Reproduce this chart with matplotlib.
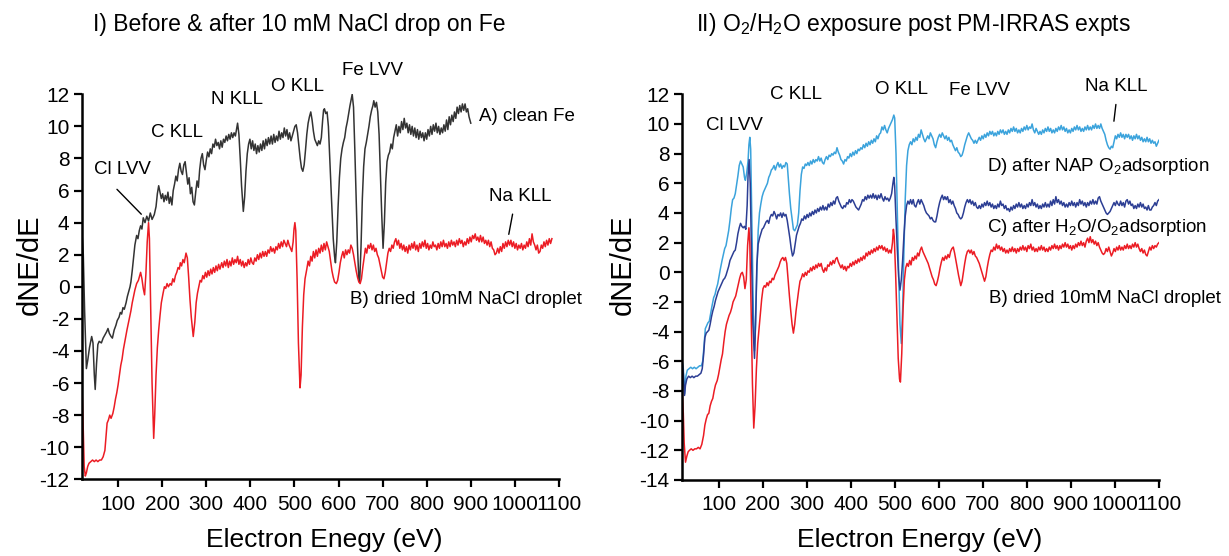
import numpy as np
import matplotlib
matplotlib.use("Agg")
import matplotlib.pyplot as plt

plt.rcParams['font.family'] = ['Liberation Sans', 'DejaVu Sans']
plt.rcParams['mathtext.fontset'] = 'custom'
plt.rcParams['mathtext.rm'] = 'Liberation Sans'
plt.rcParams['mathtext.default'] = 'regular'
plt.rcParams['axes.unicode_minus'] = False

# ---- data: (energy eV, dNE/dE) ----
# panel I, A) clean Fe
clean_fe = [
    (18.4, 3.2), (21, 2.0), (24, -1.5), (28, -5.1), (31, -4.6), (35, -3.8), (40, -3.1), (43, -3.5),
    (46, -5.5), (48, -6.4), (51, -4.8), (54, -3.6), (57, -3.4), (62, -3.5), (66, -3.2), (70, -3.0),
    (74, -2.8), (77, -2.6), (80, -2.9), (84, -3.1), (87, -3.2), (91, -2.7), (95, -2.4), (98, -2.1),
    (102, -1.9), (105, -1.6), (108, -1.7), (111, -1.3), (114, -1.4), (118, -1.0), (121, -0.6), (124, -0.3),
    (127, 0.0), (129, 0.3), (132, 1.0), (135, 1.8), (138, 2.6), (142, 3.2), (145, 3.0), (148, 3.5),
    (151, 3.8), (154, 3.6), (157, 4.3), (161, 4.0), (165, 4.4), (169, 4.1), (173, 4.6), (177, 4.2),
    (182, 4.5), (186, 5.0), (189, 5.8), (192, 6.3), (195, 5.9), (198, 5.5), (201, 5.8), (204, 5.3),
    (207, 5.7), (210, 5.4), (213, 5.9), (216, 5.2), (219, 5.6), (222, 5.1), (225, 6.0), (228, 6.4),
    (231, 6.9), (234, 6.6), (237, 7.3), (240, 7.7), (243, 7.2), (246, 7.0), (249, 7.6), (252, 7.8),
    (255, 7.1), (258, 6.4), (261, 6.8), (264, 5.8), (267, 6.2), (270, 5.3), (273, 5.1), (276, 5.9),
    (279, 6.6), (282, 6.2), (285, 7.3), (288, 8.0), (291, 8.3), (294, 7.6), (297, 7.3), (300, 7.9),
    (303, 8.4), (306, 8.1), (309, 8.6), (312, 8.3), (315, 8.9), (318, 8.7), (321, 9.2), (324, 8.8),
    (327, 9.0), (330, 8.6), (333, 9.1), (336, 8.7), (339, 9.2), (342, 9.0), (345, 9.4), (348, 9.1),
    (351, 9.5), (354, 9.2), (357, 9.6), (360, 9.3), (363, 9.6), (366, 9.4), (369, 9.9), (371, 10.2),
    (374, 9.5), (377, 8.0), (380, 6.3), (384, 4.7), (387, 5.6), (390, 7.2), (393, 8.3), (396, 8.9),
    (399, 9.2), (402, 8.6), (405, 9.1), (408, 8.5), (411, 8.9), (414, 8.3), (417, 8.8), (420, 8.4),
    (423, 8.9), (426, 8.5), (429, 9.1), (432, 8.6), (435, 9.2), (438, 8.8), (441, 9.3), (444, 8.9),
    (447, 9.4), (450, 8.9), (453, 9.5), (456, 9.0), (459, 9.4), (462, 9.1), (465, 9.7), (468, 9.2),
    (471, 9.6), (474, 9.3), (477, 9.9), (480, 9.4), (483, 9.8), (486, 9.2), (489, 9.6), (492, 9.1),
    (495, 9.4), (498, 9.7), (501, 10.0), (504, 10.1), (507, 9.6), (510, 8.8), (513, 8.0), (516, 7.4),
    (519, 7.2), (522, 7.6), (525, 8.5), (528, 9.5), (531, 10.2), (534, 10.6), (537, 10.9), (540, 10.4),
    (543, 9.7), (546, 9.2), (549, 9.0), (552, 8.8), (555, 9.1), (558, 8.9), (561, 9.3), (564, 10.4),
    (566, 11.0), (568, 11.1), (571, 10.8), (574, 10.9), (577, 10.0), (580, 8.0), (584, 5.5), (588, 3.0),
    (591, 1.9), (593, 1.5), (596, 2.8), (599, 5.0), (602, 6.8), (605, 8.0), (608, 8.6), (611, 9.0),
    (614, 9.3), (617, 9.9), (620, 10.3), (623, 10.8), (626, 11.3), (629, 11.7), (631, 12.0), (634, 11.2),
    (637, 8.5), (640, 5.5), (643, 2.5), (646, 0.5), (648, 0.3), (651, 2.5), (654, 5.5), (657, 7.5),
    (660, 8.6), (663, 9.0), (666, 9.5), (669, 10.0), (672, 10.6), (675, 11.0), (678, 11.3), (680, 11.6),
    (683, 11.2), (686, 11.5), (689, 10.9), (692, 9.5), (695, 7.0), (698, 4.5), (701, 2.4), (704, 4.0),
    (707, 6.5), (710, 7.8), (713, 8.2), (716, 8.4), (719, 8.9), (722, 8.6), (725, 9.3), (728, 9.7),
    (731, 10.1), (734, 9.4), (737, 10.0), (740, 9.6), (743, 10.3), (746, 9.8), (749, 10.5), (752, 9.9),
    (755, 10.2), (758, 9.6), (761, 10.1), (764, 9.5), (767, 10.0), (770, 9.4), (773, 9.9), (776, 9.3),
    (779, 9.8), (782, 9.2), (785, 9.7), (788, 9.3), (791, 9.6), (794, 9.1), (797, 9.6), (800, 9.2),
    (803, 9.8), (806, 9.4), (809, 10.0), (812, 9.5), (815, 10.1), (818, 9.7), (821, 10.2), (824, 9.6),
    (827, 10.0), (830, 9.5), (833, 9.9), (836, 9.6), (839, 10.1), (842, 9.7), (845, 10.4), (848, 9.8),
    (851, 10.6), (854, 10.1), (857, 10.7), (860, 10.3), (863, 10.9), (866, 10.5), (869, 11.2), (872, 10.8),
    (875, 11.3), (878, 10.9), (881, 11.4), (884, 11.0), (887, 11.4), (890, 10.9), (893, 11.1), (896, 10.6),
    (900, 10.2),
]

# panel I, B) dried 10mM NaCl droplet
nacl_left = [
    (18.4, -6.5), (21, -9.0), (23, -11.2), (25.6, -11.8), (28, -11.6), (31, -11.2), (34, -11.0), (38, -10.9),
    (42, -10.8), (46, -10.9), (50, -10.8), (54, -10.9), (58, -10.8), (62, -10.8), (66, -10.6), (70, -10.2),
    (72, -9.5), (75, -8.5), (78, -8.3), (81, -8.0), (84, -8.2), (88, -7.9), (91, -7.5), (94, -7.0),
    (97, -6.6), (100, -6.1), (103, -5.5), (106, -4.9), (109, -4.5), (112, -3.9), (116, -3.3), (120, -2.7),
    (123, -2.3), (126, -1.9), (129, -1.5), (132, -1.0), (135, -0.6), (138, -0.2), (142, 0.2), (146, 0.4),
    (149, 0.7), (151, 0.9), (154, 0.5), (157, -0.1), (160, -0.5), (163, 0.8), (166, 2.8), (169, 4.0),
    (171, 3.0), (174, -1.5), (177, -6.0), (180.7, -9.45), (183, -8.0), (186, -5.5), (189, -3.8), (192, -2.7),
    (195, -1.8), (198, -1.0), (202, -0.4), (205, 0.0), (208, -0.1), (211, 0.2), (214, 0.0), (218, 0.2),
    (221, 0.1), (224, 0.5), (227, 0.3), (230, 0.7), (233, 0.9), (236, 1.2), (239, 1.1), (241, 1.5),
    (244, 1.3), (247, 1.7), (250, 1.5), (254, 2.1), (257, 1.8), (260, 0.6), (263, -0.8), (266, -1.9),
    (270.4, -3.1), (274, -2.2), (277, -1.0), (280, -0.4), (283, 0.0), (286, 0.4), (289, 0.3), (292, 0.7),
    (295, 0.5), (298, 0.9), (301, 0.6), (304, 1.0), (307, 0.7), (310, 1.1), (313, 0.8), (316, 1.2),
    (319, 0.9), (322, 1.3), (325, 1.0), (328, 1.4), (331, 1.1), (335, 1.5), (338, 1.2), (341, 1.6),
    (344, 1.3), (347, 1.7), (350, 1.2), (353, 1.6), (356, 1.3), (359, 1.8), (362, 1.4), (365, 1.7),
    (368, 1.5), (371, 1.9), (374, 1.4), (377, 1.7), (380, 1.3), (383, 1.6), (386, 1.2), (389, 1.5),
    (392, 1.3), (395, 1.7), (398, 1.4), (401, 1.8), (404, 1.5), (407, 1.4), (410, 1.8), (413, 1.6),
    (416, 2.0), (419, 1.7), (422, 2.1), (425, 1.8), (428, 2.2), (431, 1.9), (434, 2.2), (437, 1.9),
    (440, 2.3), (443, 2.1), (446, 2.5), (449, 2.2), (452, 2.4), (455, 2.1), (458, 2.5), (461, 2.3),
    (464, 2.7), (467, 2.4), (470, 2.8), (473, 2.5), (476, 2.9), (479, 2.7), (482, 2.5), (485, 2.9),
    (488, 2.6), (491, 2.4), (494, 2.2), (497, 2.8), (499, 3.6), (501, 4.0), (503, 3.5), (506, 0.5),
    (509, -3.5), (512.6, -6.3), (515, -5.5), (518, -2.5), (521, -0.5), (524, 0.5), (528, 1.1), (531, 1.6),
    (534, 1.3), (537, 1.9), (540, 1.6), (543, 2.2), (546, 1.8), (549, 2.3), (552, 1.9), (555, 2.4),
    (558, 2.1), (561, 2.6), (564, 2.2), (567, 2.7), (570, 2.3), (573, 2.8), (576, 2.5), (579, 2.2),
    (582, 1.6), (585, 1.0), (588, 0.6), (591, 0.3), (595, 0.2), (598, 0.4), (601, 0.9), (604, 1.5),
    (607, 1.9), (610, 2.2), (613, 1.8), (616, 2.3), (619, 2.0), (622, 2.3), (625, 2.1), (628, 2.6),
    (631, 2.4), (634, 2.0), (637, 1.5), (640, 1.0), (643, 0.6), (646, 0.3), (649, 0.2), (652, 0.5),
    (655, 1.2), (658, 1.8), (661, 2.4), (664, 2.1), (667, 2.6), (670, 2.4), (673, 2.7), (676, 2.3),
    (679, 2.6), (682, 2.2), (685, 2.4), (688, 2.0), (691, 1.8), (694, 1.4), (697, 1.0), (700, 0.6),
    (703, 0.5), (706, 0.9), (709, 1.5), (712, 2.1), (715, 2.4), (718, 2.2), (721, 2.6), (724, 2.4),
    (727, 2.8), (730, 3.0), (733, 2.6), (736, 2.9), (739, 2.4), (742, 2.7), (745, 2.3), (748, 2.6),
    (751, 2.2), (754, 2.5), (757, 2.1), (760, 2.6), (763, 2.3), (766, 2.7), (769, 2.4), (772, 2.8),
    (775, 2.3), (778, 2.6), (781, 2.2), (784, 2.7), (787, 2.4), (790, 2.8), (793, 2.5), (796, 2.9),
    (799, 2.4), (802, 2.7), (805, 2.3), (808, 2.6), (811, 2.4), (814, 2.8), (817, 2.5), (820, 2.6),
    (823, 2.3), (826, 2.7), (829, 2.4), (832, 2.8), (835, 2.5), (838, 2.9), (841, 2.5), (844, 2.7),
    (847, 2.4), (850, 2.8), (853, 2.5), (856, 2.9), (859, 2.6), (862, 2.8), (865, 2.5), (868, 2.9),
    (871, 2.6), (874, 3.0), (877, 2.7), (880, 2.9), (883, 2.5), (886, 2.8), (889, 2.6), (892, 3.0),
    (895, 2.7), (898, 3.1), (901, 2.8), (904, 3.2), (907, 3.0), (910, 3.3), (913, 2.9), (916, 3.1),
    (919, 2.8), (922, 3.2), (925, 2.8), (928, 3.1), (931, 2.7), (934, 2.9), (937, 2.6), (940, 2.9),
    (943, 2.5), (946, 2.8), (949, 2.4), (952, 2.3), (955, 2.0), (958, 2.1), (961, 2.4), (964, 2.1),
    (967, 2.5), (970, 2.2), (973, 2.7), (976, 2.4), (979, 2.8), (982, 2.5), (985, 2.9), (988, 2.6),
    (991, 2.9), (994, 2.5), (997, 2.8), (1000, 2.4), (1003, 2.7), (1006, 2.3), (1009, 2.6), (1012, 2.4),
    (1015, 2.7), (1018, 2.3), (1021, 2.6), (1024, 2.4), (1027, 2.8), (1030, 2.5), (1033, 3.0), (1036, 2.6),
    (1039, 3.3), (1042, 2.8), (1045, 2.6), (1048, 2.3), (1051, 2.6), (1054, 2.1), (1057, 2.2), (1060, 2.6),
    (1063, 2.4), (1066, 2.8), (1069, 2.5), (1072, 2.9), (1075, 2.6), (1078, 3.0), (1081, 2.7), (1084, 3.0),
]

# panel II, D) after NAP O2 adsorption
nap_o2 = [
    (17, -5.9), (20, -6.5), (23, -8.2), (26, -7.0), (29, -6.6), (33, -6.5), (37, -6.4), (41, -6.5),
    (45, -6.4), (49, -6.5), (53, -6.4), (57, -6.3), (61, -6.3), (64, -6.0), (67, -5.0), (70, -3.8),
    (73, -3.6), (76, -3.4), (79, -3.3), (82, -2.8), (85, -2.3), (89, -1.7), (92, -1.5), (95, -1.1),
    (98, -0.8), (101, -0.3), (104, 0.2), (108, 0.8), (111, 1.2), (114, 1.6), (117, 1.8), (120, 2.3),
    (123, 2.8), (126, 3.5), (129, 4.3), (132, 4.9), (135, 5.0), (138, 5.3), (141, 5.9), (144, 6.5),
    (147, 7.2), (150, 7.5), (153, 7.3), (156, 7.1), (159, 6.4), (161, 6.2), (164, 6.7), (167, 7.5),
    (169, 8.6), (171, 9.1), (173, 8.3), (176, 3.0), (179, -2.5), (181.7, -5.3), (184, -3.5), (187, 0.0),
    (190, 2.8), (193, 4.0), (196, 4.6), (199, 5.1), (202, 5.4), (205, 5.6), (208, 5.8), (211, 6.0),
    (214, 6.4), (217, 6.6), (220, 6.9), (223, 7.0), (226, 7.2), (229, 6.9), (232, 7.2), (235, 7.4),
    (238, 7.1), (241, 7.3), (244, 7.0), (247, 7.2), (250, 7.1), (253, 7.4), (256, 7.3), (258, 6.5),
    (261, 5.3), (264, 4.3), (267, 3.6), (270, 2.9), (273, 2.8), (276, 3.0), (279, 3.2), (282, 4.0),
    (285, 5.5), (288, 6.6), (291, 7.1), (294, 7.0), (297, 7.3), (300, 7.2), (303, 7.4), (306, 7.2),
    (309, 7.5), (312, 7.3), (315, 7.6), (318, 7.4), (321, 7.6), (324, 7.5), (327, 7.8), (330, 7.5),
    (333, 7.7), (336, 7.4), (339, 7.3), (342, 7.6), (345, 7.8), (348, 7.6), (351, 7.9), (354, 7.8),
    (357, 8.0), (360, 7.9), (363, 8.1), (366, 8.0), (369, 8.4), (372, 8.1), (375, 7.9), (378, 7.6),
    (381, 7.5), (384, 7.3), (387, 7.6), (390, 7.5), (393, 7.8), (396, 7.7), (399, 8.0), (402, 7.8),
    (405, 8.1), (408, 7.9), (411, 8.2), (414, 8.0), (417, 8.3), (420, 8.2), (423, 8.4), (426, 8.3),
    (429, 8.6), (432, 8.4), (435, 8.7), (438, 8.5), (441, 8.8), (444, 8.6), (447, 8.9), (450, 8.7),
    (453, 9.0), (456, 8.8), (459, 9.2), (462, 9.0), (465, 9.3), (468, 9.4), (471, 9.8), (474, 9.6),
    (477, 9.9), (480, 9.6), (483, 9.4), (486, 9.7), (489, 9.9), (492, 10.1), (495, 10.3), (498, 10.6),
    (500, 10.4), (503, 8.0), (506, 4.0), (509, 0.0), (512, -3.5), (515, -4.8), (518, -2.5), (521, 1.5),
    (524, 5.0), (527, 7.2), (530, 8.2), (533, 8.6), (536, 8.8), (539, 8.6), (542, 9.0), (545, 8.8),
    (548, 9.1), (551, 8.9), (554, 9.3), (557, 9.1), (560, 9.6), (563, 9.3), (566, 9.0), (569, 8.8),
    (572, 9.0), (575, 9.2), (578, 9.0), (581, 9.4), (584, 9.2), (587, 9.0), (590, 8.6), (593, 8.4),
    (596, 8.8), (599, 9.1), (602, 9.3), (605, 9.1), (608, 9.4), (611, 9.2), (614, 9.0), (617, 9.2),
    (620, 8.9), (623, 9.1), (626, 8.8), (629, 8.9), (632, 8.6), (635, 8.4), (638, 8.2), (641, 8.4),
    (644, 8.1), (647, 8.0), (650, 7.8), (653, 7.9), (656, 8.2), (659, 8.6), (662, 8.9), (665, 9.2),
    (668, 9.4), (671, 9.2), (674, 9.0), (677, 8.9), (680, 8.7), (683, 8.9), (686, 8.7), (689, 8.9),
    (692, 9.1), (695, 8.9), (698, 9.2), (701, 9.0), (704, 9.3), (707, 9.1), (710, 9.4), (713, 9.2),
    (716, 9.5), (719, 9.3), (722, 9.5), (725, 9.2), (728, 9.4), (731, 9.2), (734, 9.5), (737, 9.3),
    (740, 9.6), (743, 9.4), (746, 9.6), (749, 9.3), (752, 9.5), (755, 9.3), (758, 9.6), (761, 9.4),
    (764, 9.7), (767, 9.5), (770, 9.8), (773, 9.5), (776, 9.7), (779, 9.4), (782, 9.6), (785, 9.4),
    (788, 9.7), (791, 9.5), (794, 9.8), (797, 9.6), (800, 9.9), (803, 9.6), (806, 9.8), (809, 9.7),
    (812, 10.0), (815, 9.6), (818, 9.4), (821, 9.7), (824, 9.5), (827, 9.3), (830, 9.5), (833, 9.3),
    (836, 9.6), (839, 9.4), (842, 9.7), (845, 9.5), (848, 9.8), (851, 9.5), (854, 9.7), (857, 9.4),
    (860, 9.6), (863, 9.4), (866, 9.7), (869, 9.5), (872, 9.8), (875, 9.6), (878, 9.9), (881, 9.6),
    (884, 9.8), (887, 9.5), (890, 9.7), (893, 9.4), (896, 9.6), (899, 9.4), (902, 9.7), (905, 9.5),
    (908, 9.8), (911, 9.6), (914, 9.9), (917, 9.6), (920, 9.8), (923, 9.5), (926, 9.7), (929, 9.5),
    (932, 9.8), (935, 9.6), (938, 9.9), (941, 9.6), (944, 9.8), (947, 9.6), (950, 9.9), (953, 9.7),
    (956, 10.0), (959, 9.7), (962, 9.9), (965, 9.7), (968, 10.0), (971, 9.7), (974, 9.5), (977, 9.3),
    (980, 8.9), (983, 8.6), (986, 8.4), (989, 8.3), (992, 8.5), (995, 8.4), (998, 8.8), (1001, 9.2),
    (1004, 9.0), (1007, 9.3), (1010, 9.1), (1013, 9.4), (1016, 9.1), (1019, 9.3), (1022, 9.0), (1025, 9.3),
    (1028, 9.1), (1031, 9.3), (1034, 9.0), (1037, 9.2), (1040, 8.9), (1043, 9.2), (1046, 9.0), (1049, 9.3),
    (1052, 9.0), (1055, 9.2), (1058, 8.9), (1061, 9.1), (1064, 8.8), (1067, 9.0), (1070, 8.8), (1073, 9.1),
    (1076, 8.8), (1079, 9.0), (1082, 8.7), (1085, 8.9), (1088, 8.7), (1091, 8.8), (1094, 8.5), (1097, 8.7),
    (1100, 8.9),
]

# panel II, C) after H2O/O2 adsorption
h2o_o2 = [
    (17, -5.9), (20, -6.8), (22.8, -8.3), (25, -7.6), (28, -7.2), (32, -7.0), (36, -7.1), (40, -7.0),
    (44, -7.1), (48, -7.0), (52, -7.0), (56, -6.9), (60, -6.8), (63, -6.5), (66, -5.6), (69, -4.4),
    (72, -4.1), (75, -4.0), (78, -3.9), (81, -3.5), (84, -3.0), (87, -2.6), (90, -2.3), (93, -1.9),
    (96, -1.6), (99, -1.3), (102, -1.1), (105, -0.9), (108, -0.7), (111, -0.5), (114, -0.4), (117, -0.2),
    (120, 0.1), (123, 0.4), (126, 0.8), (129, 1.0), (132, 1.2), (135, 1.4), (138, 1.5), (141, 2.0),
    (144, 2.6), (147, 3.0), (150, 3.3), (153, 3.1), (156, 3.0), (159, 3.1), (162, 2.9), (165, 4.5),
    (167, 6.5), (169.5, 7.6), (172, 6.0), (175, 1.0), (178, -3.5), (181.7, -5.8), (184, -3.5), (187, 0.5),
    (190, 1.9), (193, 2.3), (196, 2.6), (199, 2.9), (202, 3.0), (205, 3.2), (208, 3.4), (211, 3.5),
    (214, 3.3), (217, 3.7), (220, 3.9), (223, 3.8), (226, 4.1), (229, 3.9), (232, 3.6), (235, 3.9),
    (238, 3.8), (241, 4.0), (244, 3.7), (247, 4.0), (250, 3.8), (253, 3.9), (256, 3.5), (259, 2.9),
    (262, 2.3), (265, 1.6), (268, 1.1), (271, 1.3), (274, 1.9), (277, 2.5), (280, 2.8), (283, 3.1),
    (286, 3.3), (289, 3.6), (292, 3.5), (295, 3.8), (298, 3.6), (301, 3.9), (304, 3.7), (307, 4.0),
    (310, 3.8), (313, 4.1), (316, 3.9), (319, 4.2), (322, 4.0), (325, 4.3), (328, 4.1), (331, 4.4),
    (334, 4.2), (337, 4.5), (340, 4.2), (343, 4.4), (346, 4.2), (349, 4.6), (352, 4.4), (355, 4.7),
    (358, 4.5), (361, 4.8), (364, 4.6), (367, 5.0), (370, 5.1), (373, 4.8), (376, 4.6), (379, 4.4),
    (382, 4.3), (385, 4.5), (388, 4.4), (391, 4.7), (394, 4.6), (397, 4.9), (400, 4.7), (403, 4.9),
    (406, 4.8), (409, 4.6), (412, 4.4), (415, 4.3), (418, 4.2), (421, 4.4), (424, 4.6), (427, 4.9),
    (430, 4.8), (433, 5.1), (436, 4.9), (439, 5.2), (442, 5.0), (445, 5.2), (448, 5.0), (451, 5.3),
    (454, 5.0), (457, 5.2), (460, 4.9), (463, 5.2), (466, 5.0), (469, 5.3), (472, 5.0), (475, 4.8),
    (478, 5.1), (481, 4.9), (484, 5.0), (487, 4.8), (490, 5.0), (493, 5.3), (496, 6.0), (498, 6.4),
    (500, 5.8), (503, 3.5), (506, 1.5), (509, -0.3), (512, -1.2), (515, -0.5), (518, 0.8), (521, 2.5),
    (524, 3.8), (527, 4.5), (530, 4.8), (533, 4.6), (536, 4.9), (539, 4.6), (542, 4.9), (545, 4.5),
    (548, 4.4), (551, 4.7), (554, 4.9), (557, 4.6), (560, 4.9), (563, 4.7), (566, 4.5), (569, 4.2),
    (572, 4.0), (575, 3.9), (578, 3.8), (581, 3.6), (584, 3.7), (587, 3.5), (590, 3.4), (593, 3.4),
    (596, 3.8), (599, 4.3), (602, 4.7), (605, 5.0), (608, 5.2), (611, 4.9), (614, 5.1), (617, 4.9),
    (620, 5.1), (623, 4.7), (626, 4.9), (629, 4.6), (632, 4.8), (635, 4.5), (638, 4.3), (641, 4.0),
    (644, 3.9), (647, 3.7), (650, 3.6), (653, 3.7), (656, 4.0), (659, 4.4), (662, 4.7), (665, 4.9),
    (668, 4.7), (671, 4.9), (674, 4.6), (677, 4.8), (680, 4.5), (683, 4.7), (686, 4.4), (689, 4.3),
    (692, 4.5), (695, 4.3), (698, 4.6), (701, 4.4), (704, 4.7), (707, 4.5), (710, 4.8), (713, 4.5),
    (716, 4.7), (719, 4.4), (722, 4.6), (725, 4.3), (728, 4.5), (731, 4.3), (734, 4.6), (737, 4.4),
    (740, 4.8), (743, 4.5), (746, 4.6), (749, 4.3), (752, 4.5), (755, 4.2), (758, 4.3), (761, 4.1),
    (764, 4.4), (767, 4.2), (770, 4.5), (773, 4.3), (776, 4.6), (779, 4.4), (782, 4.7), (785, 4.4),
    (788, 4.6), (791, 4.3), (794, 4.5), (797, 4.3), (800, 4.6), (803, 4.4), (806, 4.7), (809, 4.5),
    (812, 4.9), (815, 4.5), (818, 4.7), (821, 4.4), (824, 4.6), (827, 4.3), (830, 4.5), (833, 4.3),
    (836, 4.6), (839, 4.4), (842, 4.7), (845, 4.4), (848, 4.6), (851, 4.4), (854, 4.8), (857, 4.5),
    (860, 4.9), (863, 4.6), (866, 5.1), (869, 4.7), (872, 4.9), (875, 4.6), (878, 4.8), (881, 4.5),
    (884, 4.7), (887, 4.4), (890, 4.6), (893, 4.4), (896, 4.7), (899, 4.5), (902, 4.8), (905, 4.5),
    (908, 4.7), (911, 4.4), (914, 4.7), (917, 4.5), (920, 4.9), (923, 4.6), (926, 4.8), (929, 4.5),
    (932, 4.7), (935, 4.4), (938, 4.7), (941, 4.5), (944, 4.8), (947, 4.6), (950, 4.9), (953, 4.6),
    (956, 4.8), (959, 4.6), (962, 5.0), (965, 5.1), (968, 4.8), (971, 4.6), (974, 4.4), (977, 4.2),
    (980, 4.0), (983, 3.9), (986, 4.0), (989, 4.1), (992, 4.3), (995, 4.5), (998, 4.7), (1001, 4.5),
    (1004, 4.8), (1007, 4.6), (1010, 4.5), (1013, 4.8), (1016, 4.5), (1019, 4.7), (1022, 4.4), (1025, 4.8),
    (1028, 4.9), (1031, 4.6), (1034, 4.8), (1037, 4.5), (1040, 4.6), (1043, 4.3), (1046, 4.5), (1049, 4.3),
    (1052, 4.6), (1055, 4.4), (1058, 4.7), (1061, 4.4), (1064, 4.6), (1067, 4.3), (1070, 4.4), (1073, 4.2),
    (1076, 4.5), (1079, 4.2), (1082, 4.2), (1085, 4.4), (1088, 4.5), (1091, 4.7), (1094, 4.5), (1097, 4.8),
    (1100, 4.9),
]

# panel II, B) dried 10mM NaCl droplet
nacl_right = [
    (17, -7.7), (20, -9.5), (22, -11.5), (25, -12.8), (28, -12.4), (31, -12.1), (34, -12.0), (38, -11.9),
    (42, -12.0), (46, -11.9), (50, -11.9), (54, -11.8), (58, -11.9), (62, -11.6), (66, -11.0), (69, -10.3),
    (72, -9.9), (75, -9.6), (78, -9.5), (81, -9.0), (84, -8.7), (87, -8.5), (90, -8.0), (93, -7.6),
    (97, -7.3), (100, -6.9), (103, -6.4), (106, -5.9), (109, -5.5), (112, -4.7), (115, -4.0), (118, -3.5),
    (121, -3.2), (124, -2.9), (127, -2.7), (130, -2.4), (133, -2.0), (136, -1.8), (139, -1.6), (142, -1.2),
    (145, -0.8), (148, -0.4), (151, -0.1), (154, 0.0), (157, -0.3), (160, -1.1), (163, -0.5), (166, 1.8),
    (169, 3.0), (171, 2.0), (174, -2.5), (177, -7.5), (180, -10.5), (183, -9.0), (186, -6.5), (189, -4.8),
    (192, -3.8), (195, -2.8), (198, -1.8), (201, -1.1), (204, -0.9), (207, -1.0), (210, -0.7), (213, -0.9),
    (216, -0.6), (219, -0.7), (222, -0.4), (225, -0.5), (228, -0.2), (231, 0.0), (234, 0.2), (237, 0.4),
    (240, 0.7), (243, 0.9), (246, 1.0), (249, 0.8), (252, 1.0), (255, 0.6), (258, -0.5), (261, -1.6),
    (264, -2.6), (267, -3.5), (270, -4.1), (273, -3.5), (276, -2.6), (279, -1.9), (282, -1.2), (285, -0.6),
    (288, -0.4), (291, -0.1), (294, -0.3), (297, 0.0), (300, -0.2), (303, 0.1), (306, 0.0), (309, 0.3),
    (312, 0.1), (315, 0.4), (318, 0.2), (321, 0.5), (324, 0.3), (327, 0.6), (330, 0.4), (333, 0.6),
    (336, 0.2), (339, 0.0), (342, 0.3), (345, 0.1), (348, 0.5), (351, 0.4), (354, 0.7), (357, 0.5),
    (360, 0.8), (363, 0.6), (366, 0.9), (369, 1.0), (372, 0.7), (375, 0.5), (378, 0.3), (381, 0.5),
    (384, 0.2), (387, 0.4), (390, 0.1), (393, 0.4), (396, 0.3), (399, 0.6), (402, 0.4), (405, 0.7),
    (408, 0.5), (411, 0.8), (414, 0.6), (417, 0.9), (420, 0.7), (423, 1.0), (426, 0.8), (429, 1.1),
    (432, 0.9), (435, 1.3), (438, 1.1), (441, 1.4), (444, 1.2), (447, 1.5), (450, 1.3), (453, 1.6),
    (456, 1.4), (459, 1.7), (462, 1.5), (465, 1.8), (468, 1.6), (471, 1.8), (474, 1.5), (477, 1.7),
    (480, 1.4), (483, 1.6), (486, 1.3), (489, 1.5), (492, 1.3), (495, 2.0), (497, 2.9), (499, 2.4),
    (502, 0.0), (505, -3.0), (508, -5.8), (511, -7.2), (513, -7.4), (516, -5.5), (519, -2.5), (522, -0.5),
    (525, 0.3), (528, 0.6), (531, 0.4), (534, 0.8), (537, 0.5), (540, 1.0), (543, 0.8), (546, 1.1),
    (549, 0.9), (552, 1.3), (555, 1.1), (558, 1.5), (561, 1.7), (564, 1.4), (567, 1.2), (570, 1.0),
    (573, 0.8), (576, 0.6), (579, 0.3), (582, 0.0), (585, -0.3), (588, -0.5), (591, -0.8), (594, -0.9),
    (597, -0.6), (600, -0.2), (603, 0.3), (606, 0.7), (609, 1.0), (612, 0.8), (615, 1.1), (618, 0.9),
    (621, 1.2), (624, 1.0), (627, 1.4), (630, 1.6), (633, 1.7), (636, 1.3), (639, 0.8), (642, 0.3),
    (645, -0.2), (648, -0.6), (650, -0.9), (653, -0.6), (656, 0.0), (659, 0.6), (662, 1.1), (665, 1.4),
    (668, 1.5), (671, 1.3), (674, 1.5), (677, 1.2), (680, 1.4), (683, 1.1), (686, 1.0), (689, 0.8),
    (692, 0.6), (695, 0.3), (698, 0.0), (701, -0.3), (704, -0.6), (707, -0.3), (710, 0.3), (713, 0.8),
    (716, 1.2), (719, 1.5), (722, 1.4), (725, 1.7), (728, 1.5), (731, 1.9), (734, 1.6), (737, 1.8),
    (740, 1.5), (743, 1.7), (746, 1.4), (749, 1.6), (752, 1.3), (755, 1.5), (758, 1.3), (761, 1.6),
    (764, 1.4), (767, 1.7), (770, 1.4), (773, 1.6), (776, 1.3), (779, 1.6), (782, 1.4), (785, 1.7),
    (788, 1.5), (791, 1.8), (794, 1.5), (797, 1.7), (800, 1.4), (803, 1.8), (806, 1.6), (809, 1.9),
    (812, 1.5), (815, 1.7), (818, 1.4), (821, 1.6), (824, 1.4), (827, 1.7), (830, 1.5), (833, 1.8),
    (836, 1.5), (839, 1.7), (842, 1.4), (845, 1.6), (848, 1.4), (851, 1.7), (854, 1.5), (857, 1.8),
    (860, 1.6), (863, 1.9), (866, 1.6), (869, 1.8), (872, 1.5), (875, 1.8), (878, 1.6), (881, 1.9),
    (884, 1.7), (887, 2.0), (890, 1.7), (893, 1.9), (896, 1.6), (899, 1.8), (902, 1.5), (905, 1.8),
    (908, 1.6), (911, 1.9), (914, 1.7), (917, 2.0), (920, 1.8), (923, 2.1), (926, 1.8), (929, 2.0),
    (932, 1.7), (935, 2.1), (938, 2.3), (941, 2.0), (944, 2.4), (947, 2.0), (950, 2.2), (953, 1.9),
    (956, 2.1), (959, 1.8), (962, 2.0), (965, 1.7), (968, 1.5), (971, 1.3), (974, 1.2), (977, 1.3),
    (980, 1.6), (983, 1.4), (986, 1.7), (989, 1.4), (992, 1.1), (995, 1.3), (998, 1.6), (1001, 1.4),
    (1004, 1.7), (1007, 1.5), (1010, 1.8), (1013, 1.5), (1016, 1.7), (1019, 1.5), (1022, 1.8), (1025, 1.6),
    (1028, 1.9), (1031, 1.6), (1034, 1.8), (1037, 1.6), (1040, 1.9), (1043, 1.7), (1046, 2.0), (1049, 1.7),
    (1052, 1.9), (1055, 1.6), (1058, 1.4), (1061, 1.6), (1064, 1.3), (1067, 1.5), (1070, 1.2), (1073, 1.1),
    (1076, 1.4), (1079, 1.7), (1082, 1.5), (1085, 1.8), (1088, 1.6), (1091, 1.8), (1094, 1.7), (1097, 1.9),
    (1100, 2.0),
]

# peak labels: (text, energy, y)
peaks_left = [("Cl LVV", 110, 7.3), ("C KLL", 234, 9.6), ("N KLL", 369, 11.7),
              ("O KLL", 506, 12.5), ("Fe LVV", 677, 13.5), ("Na KLL", 1013, 5.6)]
peaks_right = [("Cl LVV", 137, 9.9), ("C KLL", 275, 12.0), ("O KLL", 516, 12.3),
               ("Fe LVV", 692, 12.25), ("Na KLL", 1002, 12.5)]
# pointer lines: (start, end)
pointers_left = [((93, 6.2), (157, 4.4)), ((996, 4.7), (985, 3.1))]
pointers_right = [((1003, 11.5), (997, 10.0))]

red = "#ec1c24"
grey = "#333333"
light_blue = "#3ba3dc"
dark_blue = "#2c3e94"

fig = plt.figure(figsize=(12.29, 5.56), dpi=100)
ax1 = fig.add_axes([0.0667, 0.138, 0.3881, 0.6924])
ax2 = fig.add_axes([0.5549, 0.1367, 0.3881, 0.6937])

for curve, col, ax in [(clean_fe, grey, ax1), (nacl_left, red, ax1),
                       (nap_o2, light_blue, ax2), (h2o_o2, dark_blue, ax2),
                       (nacl_right, red, ax2)]:
    ev, val = np.array(curve).T
    ax.plot(ev, val, color=col, lw=1.1)

ax1.set_xlim(18, 1100)
ax1.set_ylim(-12, 12)
ax2.set_xlim(17, 1100)
ax2.set_ylim(-14, 12)

for ax in (ax1, ax2):
    for s in ("top", "right"):
        ax.spines[s].set_visible(False)
    for s in ("left", "bottom"):
        ax.spines[s].set_linewidth(1.8)
    ax.set_xticks(range(100, 1101, 100))
    ax.tick_params(direction="out", length=6, width=1.6, labelsize=15, pad=3)
    ax.tick_params(axis="x", pad=5)
ax1.set_yticks(range(-12, 13, 2))
ax2.set_yticks(range(-14, 13, 2))

for txt, x, y in peaks_left:
    ax1.text(x, y, txt, ha="center", va="center", fontsize=13.5)
for txt, x, y in peaks_right:
    ax2.text(x, y, txt, ha="center", va="center", fontsize=13.5)
for (p0, p1) in pointers_left:
    ax1.annotate("", xy=p1, xytext=p0, arrowprops=dict(arrowstyle="-", lw=1.0, color="black"))
for (p0, p1) in pointers_right:
    ax2.annotate("", xy=p1, xytext=p0, arrowprops=dict(arrowstyle="-", lw=1.0, color="black"))

ax1.text(918, 10.6, "A) clean Fe", ha="left", va="center", fontsize=13.5)
ax1.text(626, -0.8, "B) dried 10mM NaCl droplet", ha="left", va="center", fontsize=13.5)
ax2.text(710, 7.1, "D) after NAP O$_2$adsorption", ha="left", va="center", fontsize=13.5)
ax2.text(710, 3.0, "C) after H$_2$O/O$_2$adsorption", ha="left", va="center", fontsize=13.5)
ax2.text(714, -1.75, "B) dried 10mM NaCl droplet", ha="left", va="center", fontsize=13.5)

fig.text(299.5 / 1229, 1 - 25 / 556, "I) Before & after 10 mM NaCl drop on Fe",
         ha="center", va="center", fontsize=16.5)
fig.text(913.5 / 1229, 1 - 25 / 556, "II) O$_2$/H$_2$O exposure post PM-IRRAS expts",
         ha="center", va="center", fontsize=16.5)

fig.text(30 / 1229, 1 - 265 / 556, "dNE/dE", rotation=90, ha="center", va="center", fontsize=21)
fig.text(623 / 1229, 1 - 265 / 556, "dNE/dE", rotation=90, ha="center", va="center", fontsize=21)
fig.text(324 / 1229, 1 - 540 / 556, "Electron Enegy (eV)", ha="center", va="center", fontsize=19)
fig.text(919.5 / 1229, 1 - 540 / 556, "Electron Energy (eV)", ha="center", va="center", fontsize=19)

fig.savefig("out.png", dpi=100)
